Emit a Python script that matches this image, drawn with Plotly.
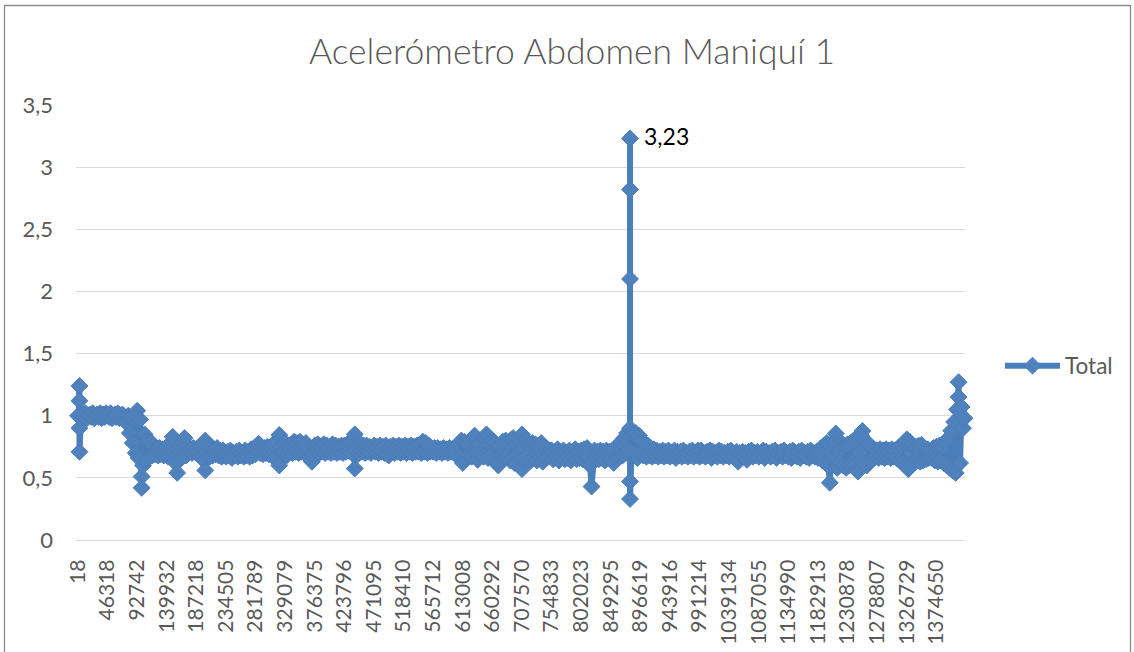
import plotly.graph_objects as go

chart_title = "Acelerómetro Abdomen Maniquí 1"
series_name = "Total"

# sample numbers printed under every 20th category
x_labels = [18, 46318, 92742, 139932, 187218, 234505, 281789, 329079, 376375,
            423796, 471095, 518410, 565712, 613008, 660292, 707570, 754833,
            802023, 849295, 896619, 943916, 991214, 1039134, 1087055, 1134990,
            1182913, 1230878, 1278807, 1326729, 1374650]
label_step = 20

# total acceleration, one entry per category (20 per row);
# a tuple holds several consecutive readings that fall in the same category
total = [
    1.00, (1.24, 1.12, 0.90, 0.71), 0.98, 1.01, 0.99, 1.02, 0.98, 1.00, 1.01, 0.99, 1.02, 0.98, 1.00, 1.01, 0.99, 1.02, 0.98, 1.01, 0.99, 1.02,
    1.01, 0.99, 1.02, 0.98, 1.00, 1.01, 0.99, 1.02, 0.98, 1.00, 1.01, 0.99, 0.97, 0.94, 1.00, 0.86, 0.99, 0.78, 1.00, 0.70,
    1.04, 0.66, 0.97, (0.51, 0.42), 0.60, 0.85, 0.64, 0.80, 0.67, 0.79, 0.68, 0.76, 0.69, 0.73, 0.68, 0.74, 0.69, 0.73, 0.68, 0.74,
    0.75, 0.67, 0.77, 0.68, 0.83, 0.70, 0.62, 0.54, 0.69, 0.76, 0.66, 0.78, 0.82, 0.68, 0.76, 0.71, 0.73, 0.70, 0.74, 0.71,
    0.73, 0.69, 0.75, 0.67, 0.77, 0.64, (0.80, 0.56), 0.70, 0.76, 0.67, 0.74, 0.68, 0.73, 0.69, 0.74, 0.68, 0.72, 0.67, 0.72, 0.68,
    0.67, 0.71, 0.68, 0.72, 0.66, 0.70, 0.68, 0.71, 0.67, 0.72, 0.68, 0.70, 0.67, 0.72, 0.68, 0.71, 0.67, 0.73, 0.68, 0.74,
    0.69, 0.76, 0.775, 0.70, 0.75, 0.69, 0.74, 0.70, 0.75, 0.69, 0.75, 0.68, 0.77, 0.66, 0.79, 0.64, (0.845, 0.60), 0.74, 0.70, 0.71,
    0.78, 0.68, 0.76, 0.71, 0.77, 0.70, 0.79, 0.71, 0.78, 0.70, 0.79, 0.71, 0.77, 0.70, 0.78, 0.71, 0.74, 0.66, 0.63, 0.70,
    0.76, 0.71, 0.77, 0.70, 0.75, 0.71, 0.77, 0.70, 0.76, 0.71, 0.75, 0.70, 0.77, 0.71, 0.76, 0.70, 0.75, 0.71, 0.76, 0.70,
    0.76, 0.71, 0.77, 0.72, 0.78, 0.70, 0.80, (0.85, 0.575), 0.72, 0.76, 0.70, 0.77, 0.71, 0.76, 0.70, 0.76, 0.71, 0.75, 0.70, 0.74,
    0.76, 0.71, 0.75, 0.70, 0.76, 0.71, 0.75, 0.70, 0.76, 0.69, 0.68, 0.75, 0.71, 0.76, 0.70, 0.75, 0.71, 0.76, 0.70, 0.75,
    0.71, 0.76, 0.70, 0.75, 0.71, 0.76, 0.70, 0.75, 0.71, 0.76, 0.71, 0.77, 0.70, 0.79, 0.71, 0.78, 0.70, 0.76, 0.71, 0.74,
    0.71, 0.74, 0.70, 0.74, 0.71, 0.73, 0.70, 0.74, 0.71, 0.73, 0.70, 0.74, 0.71, 0.73, 0.70, 0.74, 0.69, 0.77, 0.66, 0.80,
    0.62, 0.79, 0.66, 0.78, 0.68, 0.80, 0.67, 0.82, 0.84, 0.70, 0.645, 0.78, 0.69, 0.80, 0.67, 0.82, 0.85, 0.66, 0.78, 0.68,
    0.80, 0.65, 0.78, 0.62, 0.60, 0.76, 0.68, 0.79, 0.66, 0.80, 0.67, 0.78, 0.64, 0.81, 0.82, 0.62, 0.76, 0.68, 0.80, 0.66,
    (0.85, 0.57), 0.74, 0.66, 0.80, 0.68, 0.77, 0.64, 0.78, 0.66, 0.77, 0.64, 0.76, 0.67, 0.78, 0.63, 0.75, 0.66, 0.73, 0.67, 0.72,
    0.72, 0.65, 0.71, 0.66, 0.73, 0.64, 0.71, 0.67, 0.72, 0.65, 0.70, 0.66, 0.72, 0.64, 0.71, 0.67, 0.73, 0.65, 0.71, 0.66,
    0.72, 0.65, 0.73, 0.67, 0.74, 0.66, 0.60, 0.43, 0.64, 0.72, 0.66, 0.71, 0.65, 0.72, 0.66, 0.71, 0.64, 0.72, 0.66, 0.71,
    0.65, 0.72, 0.62, 0.74, 0.66, 0.76, 0.67, 0.79, 0.68, 0.82, 0.70, 0.86, 0.72, (0.88, 2.10, 2.82, 3.23, 0.90, 0.47, 0.33), 0.70, 0.85, 0.68, 0.86, 0.66, 0.84,
    0.70, 0.80, 0.68, 0.78, 0.67, 0.76, 0.68, 0.74, 0.67, 0.73, 0.68, 0.72, 0.67, 0.71, 0.68, 0.72, 0.67, 0.71, 0.68, 0.72,
    0.67, 0.70, 0.68, 0.72, 0.66, 0.71, 0.68, 0.71, 0.67, 0.72, 0.68, 0.70, 0.67, 0.71, 0.68, 0.72, 0.67, 0.70, 0.68, 0.72,
    0.67, 0.72, 0.68, 0.70, 0.67, 0.71, 0.68, 0.72, 0.66, 0.71, 0.68, 0.70, 0.67, 0.72, 0.68, 0.71, 0.67, 0.70, 0.68, 0.71,
    0.67, 0.72, 0.68, 0.70, 0.66, 0.71, 0.63, 0.70, 0.68, 0.71, 0.67, 0.70, 0.645, 0.71, 0.68, 0.72, 0.67, 0.70, 0.68, 0.71,
    0.67, 0.70, 0.68, 0.72, 0.66, 0.71, 0.68, 0.70, 0.67, 0.71, 0.68, 0.72, 0.66, 0.70, 0.68, 0.71, 0.67, 0.72, 0.68, 0.70,
    0.67, 0.71, 0.66, 0.72, 0.68, 0.70, 0.67, 0.71, 0.66, 0.72, 0.68, 0.70, 0.67, 0.71, 0.66, 0.72, 0.68, 0.70, 0.67, 0.71,
    0.66, 0.71, 0.74, 0.64, 0.76, 0.62, 0.78, 0.60, 0.46, 0.70, 0.66, 0.80, 0.857, 0.58, 0.72, 0.62, 0.78, 0.60, 0.76, 0.58,
    0.77, 0.60, 0.78, 0.62, 0.80, 0.60, 0.82, 0.55, 0.70, 0.84, 0.877, 0.62, 0.80, 0.60, 0.77, 0.64, 0.75, 0.66, 0.73, 0.67,
    0.72, 0.66, 0.73, 0.67, 0.72, 0.66, 0.73, 0.67, 0.72, 0.66, 0.73, 0.67, 0.72, 0.66, 0.74, 0.64, 0.76, 0.62, 0.78, 0.60,
    0.81, 0.57, 0.79, 0.70, 0.76, 0.63, 0.75, 0.64, 0.76, 0.63, 0.765, 0.64, 0.74, 0.65, 0.73, 0.66, 0.72, 0.66, 0.74, 0.64,
    0.75, 0.63, 0.76, 0.64, 0.75, 0.62, 0.78, 0.60, 0.82, 0.58, 0.88, 0.56, 0.95, 0.54, 1.05, (1.27, 1.15), 0.62, 1.07, 0.90, 0.98,
    1.02,
]

y_ticks = [0, 0.5, 1, 1.5, 2, 2.5, 3, 3.5]

# page geometry (pixels)
W, H = 1134, 652
ML, MR, MT, MB = 76, 169, 105, 112
PW, PH = W - ML - MR, H - MT - MB


def paper_x(px):
    return (px - ML) / PW


def paper_y(py):
    return (H - MB - py) / PH


blue = "#4A7EBB"
fill = "#4F81BD"
text_grey = "#595959"
grid_grey = "#D9D9D9"
font_family = "Lato"

# flatten categories into plotted readings
xs, ys = [], []
for cat, entry in enumerate(total):
    readings = entry if isinstance(entry, tuple) else (entry,)
    for r in readings:
        xs.append(cat)
        ys.append(r)

n_cats = len(total)
tick_pos = [i * label_step for i in range(len(x_labels))]
tick_txt = [str(v) for v in x_labels]

peak = max(ys)
x_peak = xs[ys.index(peak)]
peak_txt = f"{peak:.2f}".replace(".", ",")

fig = go.Figure()
fig.add_trace(go.Scatter(
    x=xs, y=ys, name=series_name, mode="lines+markers",
    line=dict(color=blue, width=6),
    marker=dict(symbol="diamond", size=13, color=fill, line=dict(color=blue, width=1)),
    cliponaxis=False,
))

fig.add_annotation(
    x=x_peak, y=peak, text=peak_txt, showarrow=False,
    xanchor="left", yanchor="middle", xshift=12, yshift=3,
    font=dict(family=font_family, size=23, color="#000000"),
)

# outer chart frame
fig.add_shape(
    type="rect", xref="paper", yref="paper", layer="below",
    x0=paper_x(4.5), x1=paper_x(1130.5), y0=paper_y(700), y1=paper_y(5.5),
    line=dict(color="#8C8C8C", width=1.3), fillcolor="rgba(0,0,0,0)",
)

fig.update_layout(
    width=W, height=H,
    margin=dict(l=ML, r=MR, t=MT, b=MB, autoexpand=False),
    paper_bgcolor="white", plot_bgcolor="white",
    separators=",.",
    title=dict(
        text=chart_title, x=572 / W, xanchor="center", xref="container",
        y=1 - 52 / H, yanchor="middle", yref="container",
        font=dict(family=font_family, size=35.5, color=text_grey, weight=300),
    ),
    showlegend=True,
    legend=dict(
        x=paper_x(1000), xanchor="left", y=paper_y(366), yanchor="middle",
        font=dict(family=font_family, size=22.5, color=text_grey),
        itemwidth=55, bgcolor="rgba(0,0,0,0)",
    ),
    xaxis=dict(
        range=[-2 / 1.48, (n_cats - 1) - 1 / 1.48],
        tickmode="array", tickvals=tick_pos, ticktext=tick_txt,
        tickangle=-90, ticks="", showgrid=False, zeroline=False,
        showline=True, linecolor=grid_grey, linewidth=1.3,
        tickfont=dict(family=font_family, size=21, color=text_grey),
        ticklabelstandoff=10,
    ),
    yaxis=dict(
        range=[0, 3.5], tickmode="array", tickvals=y_ticks,
        showgrid=True, gridcolor=grid_grey, gridwidth=1.3,
        zeroline=False, ticks="", showline=False,
        tickfont=dict(family=font_family, size=22, color=text_grey),
        ticklabelstandoff=22,
    ),
)

fig.write_html("out.html")
